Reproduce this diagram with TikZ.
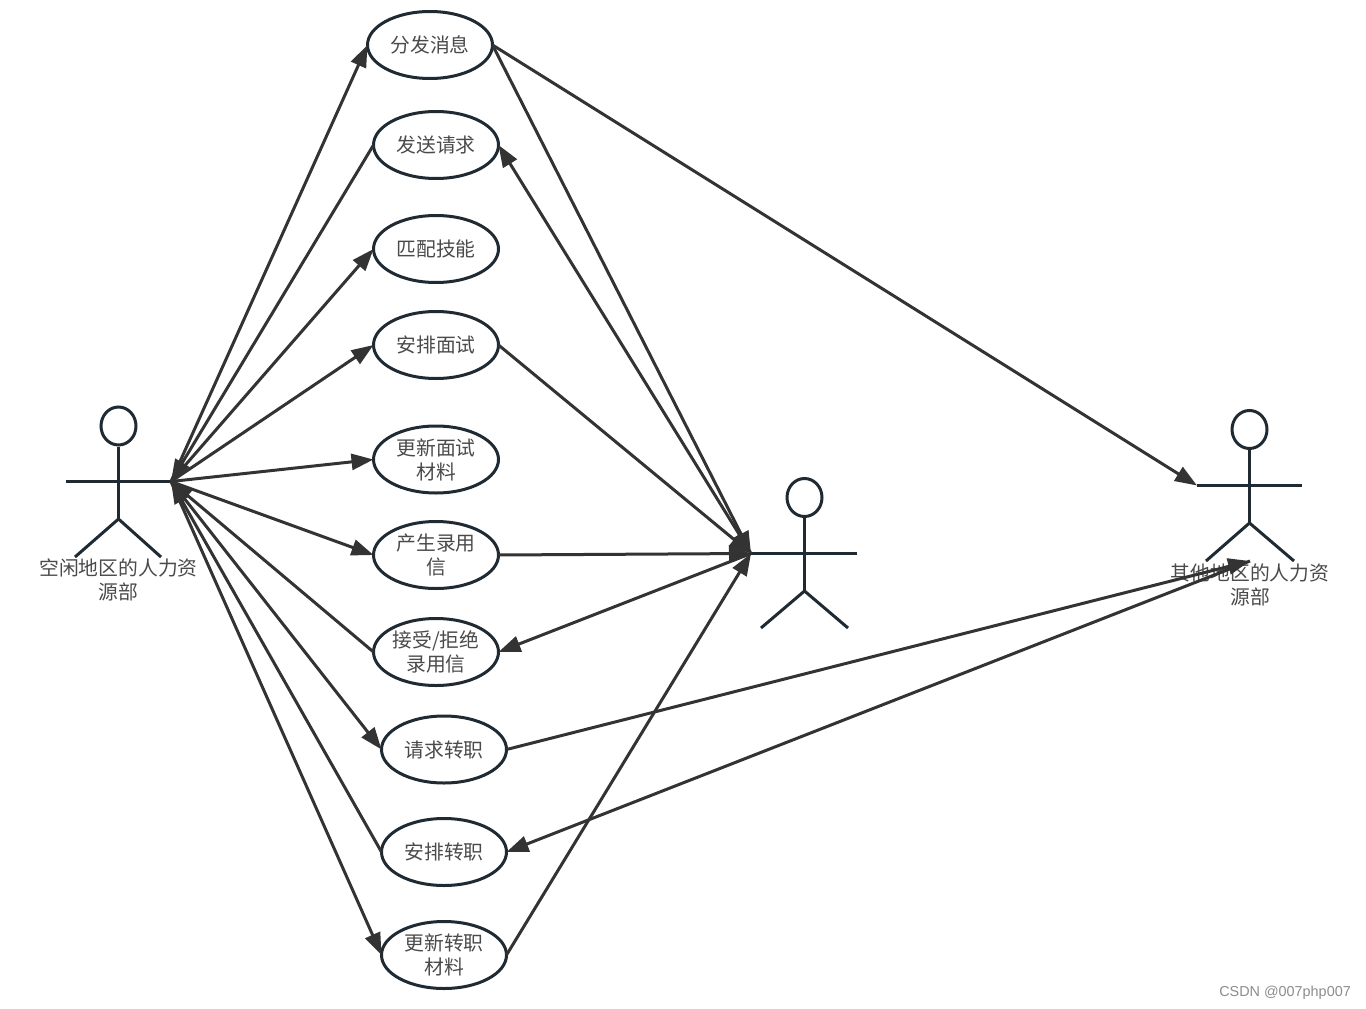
\documentclass[tikz,border=0pt]{standalone}
\usepackage{fontspec}
\usetikzlibrary{shapes.geometric,arrows.meta}
\newfontfamily\cjk{Noto Sans CJK SC}[Scale=1]
\setmainfont{Liberation Sans}
\definecolor{inkline}{HTML}{333333}
\definecolor{actorline}{HTML}{1F2A33}
\definecolor{labelink}{HTML}{4A4A4A}
\tikzset{
  usecase/.style={draw=actorline,line width=3pt,ellipse,minimum width=125pt,minimum height=67pt,
    inner sep=0pt,outer sep=0pt,text=labelink,align=center,font=\fontsize{19.8}{24}\selectfont\cjk},
  actorname/.style={inner sep=0pt,text=labelink,align=center,font=\fontsize{19.8}{24}\selectfont\cjk},
  limb/.style={draw=actorline,line width=3pt},
  head/.style={draw=actorline,line width=3pt,ellipse,minimum width=35pt,minimum height=38pt,inner sep=0pt},
  link/.style={draw=inkline,line width=3pt,-{Triangle[length=22pt,width=16pt]},shorten >=0pt}
}
\begin{document}
\begin{tikzpicture}[x=1pt,y=-1pt]
\useasboundingbox (0,0) rectangle (1366,1009);
% use cases
\node[usecase] (u1) at (430,45) {\raisebox{-1pt}{分发消息}};
\node[usecase] (u2) at (436,145) {\raisebox{-1pt}{发送请求}};
\node[usecase] (u3) at (436,249) {\raisebox{-1pt}{匹配技能}};
\node[usecase] (u4) at (436,345) {\raisebox{-1pt}{安排面试}};
\node[usecase] (u5) at (436,459.5) {更新面试\\材料};
\node[usecase] (u6) at (436,555) {产生录用\\信};
\node[usecase] (u7) at (436,652) {接受/拒绝\\录用信};
\node[usecase] (u8) at (444,749.5) {\raisebox{-1pt}{请求转职}};
\node[usecase] (u9) at (444,852) {\raisebox{-1pt}{安排转职}};
\node[usecase] (u10) at (444,955) {更新转职\\材料};
% left actor
\node[head] (h1) at (118.5,426) {};
\coordinate (a1l) at (66,481.5);
\coordinate (A) at (171,481.5);
\coordinate (a1h) at (118.5,519);
\coordinate (a1ll) at (75,557);
\coordinate (a1lr) at (161,557);
\draw[limb] (h1.south) -- (a1h);
\draw[limb] (a1l) -- (A);
\draw[limb] (a1ll) -- (a1h) -- (a1lr);
\node[actorname] (n1) at (118.5,580) {空闲地区的人力资\\源部};
% middle actor
\node[head] (h2) at (804.5,497.5) {};
\coordinate (M) at (751,553.5);
\coordinate (a2r) at (857,553.5);
\coordinate (a2h) at (804.5,591);
\coordinate (a2ll) at (761,628);
\coordinate (a2lr) at (848,628);
\draw[limb] (h2.south) -- (a2h);
\draw[limb] (M) -- (a2r);
\draw[limb] (a2ll) -- (a2h) -- (a2lr);
% right actor
\node[head] (h3) at (1249.5,429.5) {};
\coordinate (R) at (1197,485.5);
\coordinate (a3r) at (1302,485.5);
\coordinate (a3h) at (1249.5,523);
\coordinate (a3ll) at (1206,561);
\coordinate (a3lr) at (1294,561);
\coordinate (Rb) at (1250,561);
\draw[limb] (h3.south) -- (a3h);
\draw[limb] (R) -- (a3r);
\draw[limb] (a3ll) -- (a3h) -- (a3lr);
\node[actorname] (n3) at (1250,584.5) {其他地区的人力资\\源部};
% connectors, left actor
\draw[link] (A) -- (u1.west);
\draw[link] (u2.west) -- (A);
\draw[link] (A) -- (u3.west);
\draw[link] (A) -- (u4.west);
\draw[link] (A) -- (u5.west);
\draw[link] (A) -- (u6.west);
\draw[link] (u7.west) -- (A);
\draw[link] (A) -- (u8.west);
\draw[link] (u9.west) -- (A);
\draw[link] (A) -- (u10.west);
% connectors, middle actor
\draw[link] (u1.east) -- (M);
\draw[link] (M) -- (u2.east);
\draw[link] (u4.east) -- (M);
\draw[link] (u6.east) -- (M);
\draw[link] (M) -- (u7.east);
\draw[link] (u10.east) -- (M);
% connectors, right actor
\draw[link] (u1.east) -- (R);
\draw[link] (u8.east) -- (Rb);
\draw[link] (Rb) -- (u9.east);
% watermark
\node[anchor=east,inner sep=0pt,text=black!45,font=\fontsize{14.4}{16}\selectfont] (wm) at (1351,993) {CSDN @007php007};
\end{tikzpicture}
\end{document}
